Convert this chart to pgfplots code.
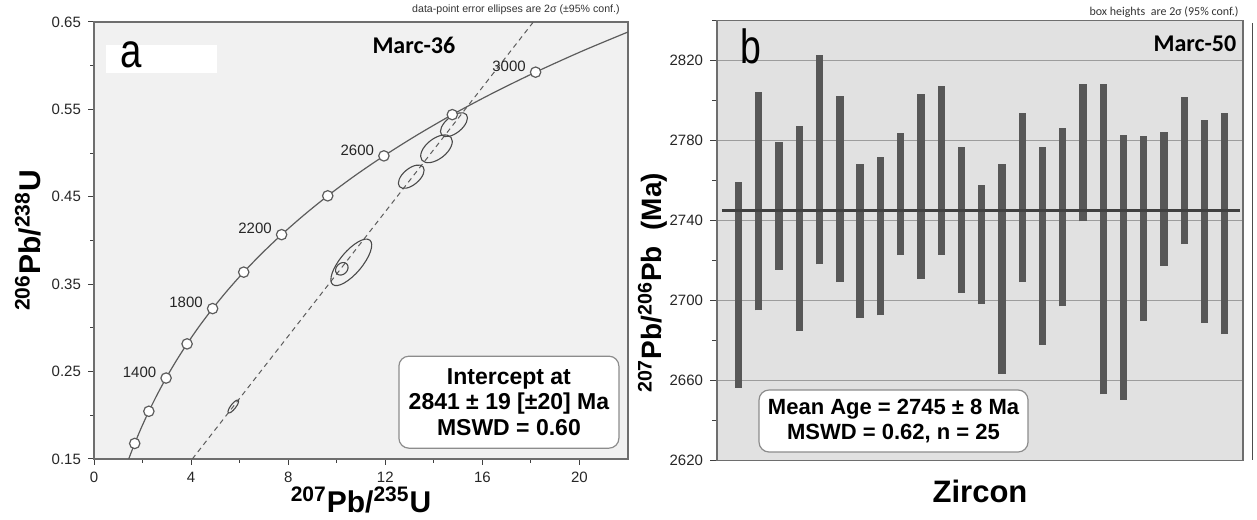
\documentclass[border=0pt]{standalone}
\usepackage{fontspec}
\setmainfont{Liberation Sans}
\newfontfamily\calib{Carlito}
\usepackage{graphicx}
\usepackage{pgfplots}
\pgfplotsset{compat=1.18}
\definecolor{bgA}{HTML}{F1F1F1}
\definecolor{bgB}{HTML}{E1E1E1}
\definecolor{curvec}{HTML}{5C5C5C}
\definecolor{ellc}{HTML}{4A4A4A}
\definecolor{barc}{HTML}{575757}
\definecolor{framec}{HTML}{6E6E6E}
\definecolor{gridc}{HTML}{9C9C9C}

\begin{document}
\begin{tikzpicture}[x=1pt,y=1pt]
\path[use as bounding box] (0,0) rectangle (628.5,259.5);

% ---- panel a: concordia diagram
\begin{axis}[
  at={(47pt,30pt)}, anchor=south west,
  scale only axis, width=267pt, height=218.5pt,
  xmin=0, xmax=22, ymin=0.15, ymax=0.65,
  xtick={0,4,8,12,16,20}, minor xtick={2,6,10,14,18},
  ytick={0.15,0.25,0.35,0.45,0.55,0.65}, minor ytick={0.2,0.3,0.4,0.5,0.6},
  tick pos=left, tick align=outside,
  major tick length=3pt, minor tick length=2pt,
  tick style={color=black!75, line width=0.5pt},
  /pgf/number format/assume math mode=true,
  yticklabel style={/pgf/number format/.cd, fixed, fixed zerofill, precision=2},
  tick label style={font=\fontsize{7.5}{9}\selectfont, text=black!85},
  axis line style={framec, line width=0.6pt},
  axis background/.style={fill=bgA},
  clip=true,
  xlabel={\textsuperscript{207}Pb/\textsuperscript{235}U},
  xlabel style={font=\fontsize{15}{18}\selectfont\bfseries, at={(axis description cs:0.5,-0.1213)}, anchor=base},
  ylabel={\textsuperscript{206}Pb/\textsuperscript{238}U},
  ylabel style={font=\fontsize{15}{18}\selectfont\bfseries, at={(axis description cs:-0.1011,0.5)}, anchor=base, rotate=0},
]
% concordia curve (t = 900 ... 3200 Ma)
\addplot[curvec, line width=0.6pt, smooth] coordinates {
 (1.4263,0.1498) (1.6774,0.1678) (1.9545,0.1861) (2.2603,0.2046) (2.5977,0.2234)
 (2.9701,0.2426) (3.3810,0.2620) (3.8344,0.2817) (4.3348,0.3018) (4.8869,0.3221)
 (5.4962,0.3428) (6.1685,0.3638) (6.9105,0.3851) (7.7291,0.4067) (8.6326,0.4287)
 (9.6296,0.4511) (10.7297,0.4738) (11.9437,0.4968) (13.2834,0.5202) (14.7617,0.5440)
 (16.3930,0.5681) (18.1931,0.5926) (20.1796,0.6175) (22.3716,0.6428)};
% discordia
\addplot[curvec, line width=0.5pt, dash pattern=on 2.5pt off 2pt] coordinates {(4.05,0.15) (18.1,0.65)};
% error ellipses (centre from data, shape as a stretched mark)
\addplot[only marks, mark=o, mark size=1.25pt, mark options={draw=ellc, line width=0.55pt, rotate=52, xscale=3.2}] coordinates {(5.74,0.2101)};
\addplot[only marks, mark=o, mark size=5.5pt, mark options={draw=ellc, line width=0.55pt, rotate=50, xscale=2.63}] coordinates {(10.60,0.375)};
\addplot[only marks, mark=o, mark size=2.75pt, mark options={draw=ellc, line width=0.55pt, rotate=45, xscale=1.27}] coordinates {(10.21,0.3676)};
\addplot[only marks, mark=o, mark size=4.05pt, mark options={draw=ellc, line width=0.55pt, rotate=40, xscale=1.9}] coordinates {(13.07,0.473)};
\addplot[only marks, mark=o, mark size=5.05pt, mark options={draw=ellc, line width=0.55pt, rotate=38, xscale=1.83}] coordinates {(14.11,0.5049)};
\addplot[only marks, mark=o, mark size=4.15pt, mark options={draw=ellc, line width=0.55pt, rotate=39, xscale=1.93}] coordinates {(14.83,0.5325)};
% age markers every 200 Ma
\addplot[only marks, mark=*, mark size=2.6pt, mark options={fill=white, draw=curvec, line width=0.6pt}] coordinates {
 (1.6774,0.1678) (2.2603,0.2046) (2.9701,0.2426) (3.8344,0.2817) (4.8869,0.3221)
 (6.1685,0.3638) (7.7291,0.4067) (9.6296,0.4511) (11.9437,0.4968) (14.7617,0.5440)
 (18.1931,0.5926)};
\addplot[draw=none, mark=none, nodes near coords, point meta=explicit symbolic,
  every node near coord/.style={anchor=east, inner sep=0pt, xshift=-4.75pt, yshift=3pt, font=\fontsize{7.5}{9}\selectfont, text=black!85}]
 coordinates {(2.9701,0.2426)[1400] (4.8869,0.3221)[1800] (7.7291,0.4067)[2200] (11.9437,0.4968)[2600] (18.1931,0.5926)[3000]};
\node[fill=white, minimum width=55.5pt, minimum height=14pt, inner sep=0pt] at (rel axis cs:0.1264,0.9153) {};
\node[anchor=base west, inner sep=0pt, font=\fontsize{24}{24}\selectfont] at (rel axis cs:0.0496,0.897) {\scalebox{0.8}[1]{a}};
\node[anchor=base, inner sep=0pt, font=\calib\bfseries\fontsize{12}{14}\selectfont] at (rel axis cs:0.599,0.929) {Marc-36};
\node[draw=black!45, fill=white, rounded corners=5pt, line width=0.6pt, align=center, minimum width=110pt, minimum height=46pt, inner sep=0pt,
  font=\bfseries\fontsize{11.5}{12.8}\selectfont] at (rel axis cs:0.777,0.130) {Intercept at\\2841 ± 19 [±20] Ma\\MSWD = 0.60};
\end{axis}

% ---- panel b: weighted mean ages
\begin{axis}[
  at={(358.5pt,29.15pt)}, anchor=south west,
  scale only axis, width=263pt, height=220pt,
  xmin=-0.064, xmax=25.9, ymin=2620, ymax=2840,
  xtick=\empty,
  ytick={2620,2660,2700,2740,2780,2820}, minor ytick={2640,2680,2720,2760,2800,2840},
  ytick pos=left, tick align=outside,
  major tick length=3.5pt, minor tick length=2.5pt,
  tick style={color=black!75, line width=0.5pt},
  ymajorgrids, grid style={gridc, line width=0.5pt},
  /pgf/number format/assume math mode=true,
  yticklabel style={/pgf/number format/.cd, 1000 sep={}},
  tick label style={font=\fontsize{7.5}{9}\selectfont, text=black!85},
  axis line style={framec, line width=0.6pt},
  axis background/.style={fill=bgB},
  xlabel={Zircon},
  xlabel style={font=\fontsize{15.5}{18}\selectfont\bfseries, at={(axis description cs:0.5,-0.0961)}, anchor=base},
  ylabel={\textsuperscript{207}Pb/\textsuperscript{206}Pb\ \ (Ma)},
  ylabel style={font=\fontsize{14}{16}\selectfont\bfseries, at={(axis description cs:-0.1046,0.404)}, anchor=base},
]
\addplot[barc, line width=3.65pt, unbounded coords=jump] coordinates {
 (1,2656.5) (1,2759.1) (1,nan)
 (2,2695.1) (2,2804.2) (2,nan)
 (3,2715.4) (3,2779.2) (3,nan)
 (4,2684.9) (4,2787.5) (4,nan)
 (5,2718.1) (5,2822.9) (5,nan)
 (6,2709.3) (6,2802.5) (6,nan)
 (7,2691.4) (7,2768.5) (7,nan)
 (8,2692.6) (8,2771.8) (8,nan)
 (9,2722.8) (9,2783.7) (9,nan)
 (10,2710.9) (10,2803.2) (10,nan)
 (11,2723.0) (11,2807.5) (11,nan)
 (12,2703.9) (12,2777.0) (12,nan)
 (13,2698.3) (13,2757.6) (13,nan)
 (14,2663.4) (14,2768.3) (14,nan)
 (15,2709.3) (15,2794.0) (15,nan)
 (16,2677.9) (16,2777.0) (16,nan)
 (17,2697.1) (17,2786.5) (17,nan)
 (18,2739.6) (18,2808.5) (18,nan)
 (19,2653.2) (19,2808.2) (19,nan)
 (20,2650.4) (20,2782.7) (20,nan)
 (21,2689.9) (21,2782.4) (21,nan)
 (22,2717.4) (22,2784.5) (22,nan)
 (23,2728.3) (23,2801.7) (23,nan)
 (24,2688.9) (24,2790.4) (24,nan)
 (25,2683.3) (25,2793.7)};
% weighted mean
\addplot[black!75, line width=1.2pt] coordinates {(0.18,2745) (25.75,2745)};
\node[anchor=base west, inner sep=0pt, font=\fontsize{24}{24}\selectfont] at (rel axis cs:0.0437,0.903) {\scalebox{0.78}[1]{b}};
\node[anchor=base east, inner sep=0pt, font=\calib\bfseries\fontsize{12}{14}\selectfont] at (rel axis cs:0.988,0.9295) {Marc-50};
\node[draw=black!45, fill=white, rounded corners=5pt, line width=0.6pt, align=center, minimum width=134.5pt, minimum height=31pt, inner sep=0pt,
  font=\bfseries\fontsize{11}{12.5}\selectfont] at (rel axis cs:0.3356,0.0902) {Mean Age = 2745 ± 8 Ma\\MSWD = 0.62, n = 25};
\end{axis}

\node[anchor=base east, inner sep=0pt, font=\fontsize{5.3}{6}\selectfont, text=black!80] at (310,253) {data-point error ellipses are 2σ (±95\% conf.)};
\node[anchor=base east, inner sep=0pt, font=\calib\fontsize{6}{7}\selectfont, text=black!80] at (619.5,251.5) {box heights\ \ are 2σ (95\% conf.)};
\draw[black!70, line width=0.5pt] (626,29.5) -- (626,248);
\end{tikzpicture}
\end{document}
